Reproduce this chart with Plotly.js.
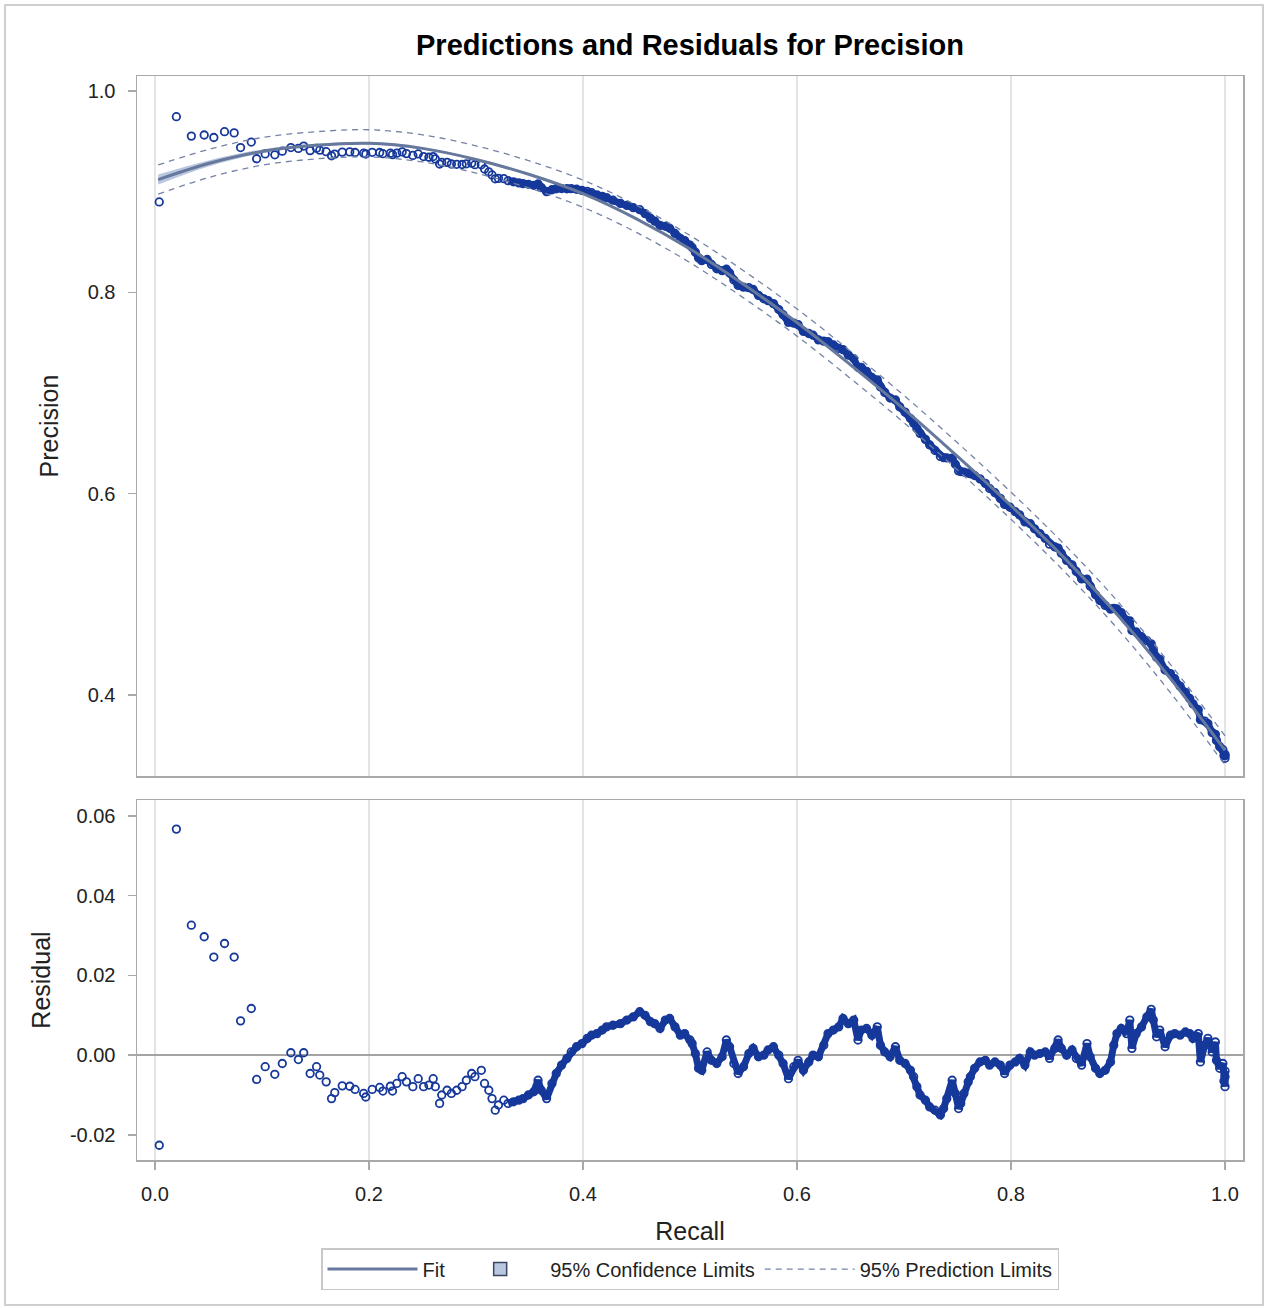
<!DOCTYPE html>
<html>
<head>
<meta charset="utf-8">
<script src="https://cdn.plot.ly/plotly-3.0.1.min.js"></script>
<style>
  html, body { margin: 0; padding: 0; background: #ffffff; }
  #chart { width: 1265px; height: 1308px; }
</style>
</head>
<body>
<div id="chart"></div>
<script>
// ---------------- Data ----------------
const recall = [
  0.004,0.020,0.034,0.046,0.055,0.065,0.074,0.080,0.090,0.095,
  0.103,0.112,0.119,0.127,0.134,0.139,0.145,0.151,0.154,0.160,
  0.165,0.168,0.175,0.182,0.187,0.195,0.197,0.203,0.210,0.213,
  0.220,0.222,0.226,0.231,0.235,0.241,0.246,0.251,0.256,0.260,
  0.262,0.266,0.268,0.273,0.277,0.282,0.287,0.291,0.296,0.299,
  0.305,0.308,0.312,0.315,0.318,0.321,0.326,0.330,0.335,0.340,
  0.344,0.349,0.354,0.358,0.361,0.366,0.371,0.375,0.380,0.385,
  0.389,0.394,0.399,0.404,0.408,0.413,0.418,0.422,0.428,0.435,
  0.441,0.447,0.453,0.458,0.463,0.467,0.472,0.477,0.481,0.486,
  0.491,0.495,0.500,0.502,0.505,0.508,0.511,0.516,0.520,0.525,
  0.530,0.534,0.537,0.541,0.545,0.550,0.555,0.559,0.564,0.569,
  0.573,0.578,0.583,0.587,0.592,0.597,0.601,0.606,0.611,0.615,
  0.620,0.625,0.629,0.634,0.639,0.643,0.648,0.653,0.657,0.660,
  0.665,0.670,0.675,0.678,0.682,0.687,0.692,0.696,0.701,0.706,
  0.709,0.712,0.715,0.720,0.724,0.729,0.734,0.737,0.740,0.745,
  0.748,0.751,0.753,0.756,0.760,0.762,0.766,0.771,0.776,0.780,
  0.785,0.790,0.794,0.799,0.804,0.808,0.813,0.818,0.822,0.827,
  0.832,0.836,0.841,0.844,0.847,0.852,0.857,0.861,0.866,0.871,
  0.874,0.879,0.883,0.888,0.893,0.896,0.899,0.903,0.908,0.911,
  0.913,0.917,0.922,0.927,0.931,0.933,0.936,0.939,0.944,0.949,
  0.953,0.958,0.963,0.967,0.970,0.975,0.977,0.981,0.984,0.988,
  0.991,0.992,0.995,0.998,0.999,1.000,1.000,1.000
];

const precision = [
  0.8898,0.9745,0.9552,0.9563,0.9538,0.9596,0.9584,0.9438,0.9493,0.9327,
  0.9375,0.9366,0.9402,0.9438,0.9430,0.9453,0.9408,0.9431,0.9412,0.9397,
  0.9357,0.9373,0.9393,0.9395,0.9389,0.9382,0.9374,0.9391,0.9389,0.9377,
  0.9382,0.9368,0.9383,0.9395,0.9378,0.9360,0.9375,0.9349,0.9342,0.9349,
  0.9325,0.9274,0.9290,0.9291,0.9275,0.9272,0.9270,0.9277,0.9283,0.9268,
  0.9267,0.9225,0.9196,0.9166,0.9128,0.9132,0.9129,0.9109,0.9098,0.9087,
  0.9079,0.9073,0.9063,0.9077,0.9040,0.9000,0.9019,0.9029,0.9031,0.9029,
  0.9030,0.9024,0.9013,0.9002,0.8990,0.8969,0.8953,0.8941,0.8915,0.8884,
  0.8863,0.8841,0.8821,0.8782,0.8736,0.8707,0.8665,0.8656,0.8636,0.8585,
  0.8534,0.8514,0.8468,0.8445,0.8399,0.8341,0.8315,0.8326,0.8277,0.8234,
  0.8216,0.8230,0.8192,0.8122,0.8069,0.8051,0.8046,0.8029,0.7970,0.7936,
  0.7918,0.7888,0.7829,0.7778,0.7702,0.7694,0.7679,0.7612,0.7591,0.7574,
  0.7528,0.7515,0.7510,0.7477,0.7443,0.7431,0.7376,0.7342,0.7256,0.7255,
  0.7215,0.7154,0.7131,0.7059,0.7006,0.6950,0.6931,0.6862,0.6810,0.6746,
  0.6701,0.6648,0.6599,0.6539,0.6484,0.6429,0.6370,0.6358,0.6355,0.6354,
  0.6293,0.6226,0.6220,0.6215,0.6205,0.6198,0.6180,0.6147,0.6102,0.6051,
  0.6010,0.5953,0.5893,0.5865,0.5821,0.5789,0.5720,0.5701,0.5651,0.5603,
  0.5555,0.5498,0.5471,0.5460,0.5408,0.5337,0.5293,0.5227,0.5153,0.5150,
  0.5082,0.4996,0.4938,0.4889,0.4853,0.4861,0.4855,0.4819,0.4742,0.4737,
  0.4641,0.4626,0.4579,0.4540,0.4508,0.4456,0.4375,0.4354,0.4248,0.4213,
  0.4162,0.4088,0.4026,0.3966,0.3912,0.3854,0.3755,0.3741,0.3716,0.3626,
  0.3609,0.3549,0.3487,0.3457,0.3399,0.3396,0.3371,0.3410
];

const residual = [
  -0.0226,0.0567,0.0326,0.0297,0.0246,0.0280,0.0246,0.0086,0.0117,-0.0061,
  -0.0029,-0.0048,-0.0021,0.0006,-0.0011,0.0006,-0.0046,-0.0029,-0.0050,-0.0067,
  -0.0109,-0.0094,-0.0077,-0.0078,-0.0086,-0.0096,-0.0105,-0.0086,-0.0081,-0.0090,
  -0.0078,-0.0090,-0.0071,-0.0054,-0.0067,-0.0079,-0.0059,-0.0079,-0.0075,-0.0059,
  -0.0079,-0.0121,-0.0100,-0.0088,-0.0096,-0.0088,-0.0079,-0.0063,-0.0046,-0.0054,
  -0.0038,-0.0071,-0.0088,-0.0109,-0.0138,-0.0125,-0.0113,-0.0121,-0.0117,-0.0113,
  -0.0109,-0.0100,-0.0092,-0.0063,-0.0088,-0.0109,-0.0071,-0.0046,-0.0025,-0.0008,
  0.0008,0.0021,0.0029,0.0042,0.0050,0.0054,0.0063,0.0071,0.0075,0.0079,
  0.0088,0.0096,0.0109,0.0100,0.0084,0.0079,0.0067,0.0088,0.0092,0.0071,
  0.0050,0.0054,0.0038,0.0029,0.0004,-0.0033,-0.0038,0.0008,-0.0013,-0.0021,
  -0.0004,0.0038,0.0021,-0.0021,-0.0046,-0.0029,0.0004,0.0017,-0.0004,0.0000,
  0.0013,0.0021,0.0000,-0.0021,-0.0059,-0.0029,-0.0013,-0.0038,-0.0017,0.0000,
  -0.0004,0.0025,0.0054,0.0063,0.0071,0.0092,0.0079,0.0088,0.0038,0.0063,
  0.0067,0.0050,0.0071,0.0025,0.0008,-0.0004,0.0021,-0.0013,-0.0021,-0.0038,
  -0.0054,-0.0079,-0.0100,-0.0113,-0.0130,-0.0138,-0.0150,-0.0134,-0.0109,-0.0063,
  -0.0096,-0.0134,-0.0121,-0.0096,-0.0067,-0.0054,-0.0033,-0.0017,-0.0013,-0.0025,
  -0.0017,-0.0025,-0.0046,-0.0025,-0.0017,-0.0008,-0.0025,0.0008,0.0000,0.0004,
  0.0008,-0.0008,0.0017,0.0038,0.0017,0.0000,0.0013,-0.0008,-0.0025,0.0029,
  -0.0004,-0.0033,-0.0046,-0.0038,-0.0017,0.0025,0.0054,0.0067,0.0054,0.0088,
  0.0017,0.0054,0.0071,0.0096,0.0115,0.0088,0.0046,0.0063,0.0021,0.0050,
  0.0054,0.0050,0.0058,0.0054,0.0042,0.0054,-0.0017,0.0025,0.0042,0.0008,
  0.0033,-0.0013,-0.0033,-0.0021,-0.0065,-0.0054,-0.0079,-0.0040
];

// Fitted curve and limits
const fitRecall    = [0.003,0.05,0.10,0.15,0.20,0.25,0.30,0.35,0.40,0.45,0.50,0.55,0.60,0.65,0.70,0.75,0.80,0.85,0.90,0.95,1.00];
const fitPrecision = [0.912,0.928,0.940,0.946,0.948,0.943,0.932,0.917,0.898,0.873,0.843,0.808,0.770,0.728,0.684,0.637,0.588,0.536,0.479,0.415,0.345];
const clLower      = [0.907,0.925,0.938,0.9445,0.9467,0.9418,0.9308,0.9158,0.8968,0.8718,0.8418,0.8068,0.7688,0.7268,0.6828,0.6358,0.5867,0.5346,0.4774,0.413,0.342];
const clUpper      = [0.917,0.931,0.942,0.9475,0.9493,0.9442,0.9332,0.9182,0.8992,0.8742,0.8442,0.8092,0.7712,0.7292,0.6852,0.6382,0.5893,0.5374,0.4806,0.417,0.348];
const plLower      = [0.8975,0.914,0.9263,0.9325,0.9345,0.9295,0.9185,0.9035,0.8845,0.8595,0.8295,0.7945,0.7565,0.7145,0.6705,0.6235,0.5745,0.5225,0.4653,0.401,0.3305];
const plUpper      = [0.9265,0.942,0.9537,0.9595,0.9615,0.9565,0.9455,0.9305,0.9115,0.8865,0.8565,0.8215,0.7835,0.7415,0.6975,0.6505,0.6015,0.5495,0.4927,0.429,0.3595];

// Tick labels
const xTickVals = [0, 0.2, 0.4, 0.6, 0.8, 1.0];
const xTickText = ['0.0', '0.2', '0.4', '0.6', '0.8', '1.0'];
const yTopTickVals = [0.4, 0.6, 0.8, 1.0];
const yTopTickText = ['0.4', '0.6', '0.8', '1.0'];
const yResTickVals = [-0.02, 0, 0.02, 0.04, 0.06];
const yResTickText = ['-0.02', '0.00', '0.02', '0.04', '0.06'];

// ---------------- Styles ----------------
const FONT = '"Liberation Sans", Arial, "DejaVu Sans", sans-serif';
const PT_COLOR = '#15389a';
const FIT_COLOR = '#66789c';
const CL_FILL = '#b9c7e0';
const PL_COLOR = '#7483a6';
const FRAME = '#a9a9a9';
const GRID = '#e4e4e4';

// dense part of the observations (drawn with a connecting band so the overlapping circles read as one solid band)
const denseIdx = recall.map((r, i) => i).filter(i => recall[i] >= 0.33);
const denseRecall = denseIdx.map(i => recall[i]);
const densePrecision = denseIdx.map(i => precision[i]);
const denseResidual = denseIdx.map(i => residual[i]);

const markerStyle = { symbol: 'circle-open', size: 7.5, color: PT_COLOR, line: { width: 1.8, color: PT_COLOR } };

const traces = [
  // Confidence band (top panel)
  { x: fitRecall, y: clLower, xaxis: 'x2', yaxis: 'y', mode: 'lines', line: { width: 0, color: CL_FILL, shape: 'spline' },
    showlegend: false, hoverinfo: 'skip' },
  { x: fitRecall, y: clUpper, xaxis: 'x2', yaxis: 'y', mode: 'lines', fill: 'tonexty', fillcolor: CL_FILL,
    line: { width: 0, color: CL_FILL, shape: 'spline' }, showlegend: false, hoverinfo: 'skip' },
  // Observations (top panel)
  { x: denseRecall, y: densePrecision, xaxis: 'x2', yaxis: 'y', mode: 'lines',
    line: { width: 7, color: PT_COLOR }, showlegend: false, hoverinfo: 'skip' },
  { x: recall, y: precision, xaxis: 'x2', yaxis: 'y', mode: 'markers', marker: markerStyle,
    name: 'Precision', showlegend: false },
  // Fit line
  { x: fitRecall, y: fitPrecision, xaxis: 'x2', yaxis: 'y', mode: 'lines',
    line: { width: 3, color: FIT_COLOR, shape: 'spline' }, name: 'Fit', showlegend: true, legendrank: 1 },
  // Prediction limits
  { x: fitRecall, y: plLower, xaxis: 'x2', yaxis: 'y', mode: 'lines',
    line: { width: 1.3, color: PL_COLOR, dash: '6px,5px', shape: 'spline' }, name: '95% Prediction Limits',
    showlegend: true, legendrank: 3, legendgroup: 'pl' },
  { x: fitRecall, y: plUpper, xaxis: 'x2', yaxis: 'y', mode: 'lines',
    line: { width: 1.3, color: PL_COLOR, dash: '6px,5px', shape: 'spline' }, name: '95% Prediction Limits',
    showlegend: false, legendgroup: 'pl' },
  // legend key for the confidence band
  { x: [null], y: [null], xaxis: 'x2', yaxis: 'y', mode: 'markers', name: '95% Confidence Limits',
    marker: { symbol: 'square', size: 13, color: CL_FILL, line: { width: 1.5, color: '#3a4660' } },
    showlegend: true, legendrank: 2 },
  // Residuals (bottom panel)
  { x: denseRecall, y: denseResidual, xaxis: 'x', yaxis: 'y2', mode: 'lines',
    line: { width: 7, color: PT_COLOR }, showlegend: false, hoverinfo: 'skip' },
  { x: recall, y: residual, xaxis: 'x', yaxis: 'y2', mode: 'markers', marker: markerStyle,
    name: 'Residual', showlegend: false }
];

const tickFont = { family: FONT, size: 20, color: '#222' };
const titleFont = { family: FONT, size: 25, color: '#222' };

const layout = {
  width: 1265, height: 1308,
  margin: { l: 137, r: 22, t: 76, b: 148 },
  paper_bgcolor: '#ffffff', plot_bgcolor: '#ffffff',
  font: { family: FONT, color: '#222' },
  title: { text: 'Predictions and Residuals for Precision', font: { family: FONT, size: 29, color: '#000', weight: 'bold' },
           xref: 'paper', x: 0.5, xanchor: 'center', yref: 'container', y: 1 - 45 / 1308, yanchor: 'middle' },
  showlegend: true,
  legend: { orientation: 'h', xref: 'paper', yref: 'paper', x: 0.5, xanchor: 'center', y: -0.1006, yanchor: 'middle',
            bordercolor: '#c8c8c8', borderwidth: 1.5, bgcolor: '#ffffff',
            font: { family: FONT, size: 20, color: '#222' }, itemwidth: 90, traceorder: 'normal' },
  xaxis: {
    domain: [0, 1], anchor: 'y2', range: [-0.0168, 1.0168],
    tickvals: xTickVals, ticktext: xTickText, ticks: 'outside', ticklen: 8, tickcolor: FRAME, tickwidth: 1.5,
    ticklabelstandoff: 7, tickfont: tickFont,
    showgrid: true, gridcolor: GRID, gridwidth: 1.5, zeroline: false,
    showline: true, mirror: true, linecolor: FRAME, linewidth: 1.5,
    title: { text: 'Recall', font: titleFont, standoff: 19 }
  },
  xaxis2: {
    domain: [0, 1], anchor: 'y', matches: 'x', range: [-0.0168, 1.0168],
    tickvals: xTickVals, showticklabels: false, ticks: '',
    showgrid: true, gridcolor: GRID, gridwidth: 1.5, zeroline: false,
    showline: true, mirror: true, linecolor: FRAME, linewidth: 1.5
  },
  yaxis: {
    domain: [0.3542, 1], anchor: 'x2', range: [0.3195, 1.0149],
    tickvals: yTopTickVals, ticktext: yTopTickText, ticks: 'outside', ticklen: 8, tickcolor: FRAME, tickwidth: 1.5,
    ticklabelstandoff: 8, tickfont: tickFont,
    showgrid: false, zeroline: false,
    showline: true, mirror: true, linecolor: FRAME, linewidth: 1.5,
    title: { text: 'Precision', font: titleFont, standoff: 22 }
  },
  yaxis2: {
    domain: [0, 0.3321], anchor: 'x', range: [-0.0263, 0.064],
    tickvals: yResTickVals, ticktext: yResTickText, ticks: 'outside', ticklen: 8, tickcolor: FRAME, tickwidth: 1.5,
    ticklabelstandoff: 8, tickfont: tickFont,
    showgrid: false, zeroline: true, zerolinecolor: '#a3a3a3', zerolinewidth: 2,
    showline: true, mirror: true, linecolor: FRAME, linewidth: 1.5,
    title: { text: 'Residual', font: titleFont, standoff: 12 }
  },
  shapes: [
    { type: 'rect', xref: 'paper', yref: 'paper', x0: (5 - 137) / 1106, x1: (1263 - 137) / 1106,
      y0: (1160 - 1305) / 1084, y1: (1160 - 5) / 1084, line: { color: '#cfcfcf', width: 2 }, fillcolor: 'rgba(0,0,0,0)', layer: 'below' }
  ]
};

Plotly.newPlot('chart', traces, layout, { displayModeBar: false, staticPlot: true });
</script>
</body>
</html>
